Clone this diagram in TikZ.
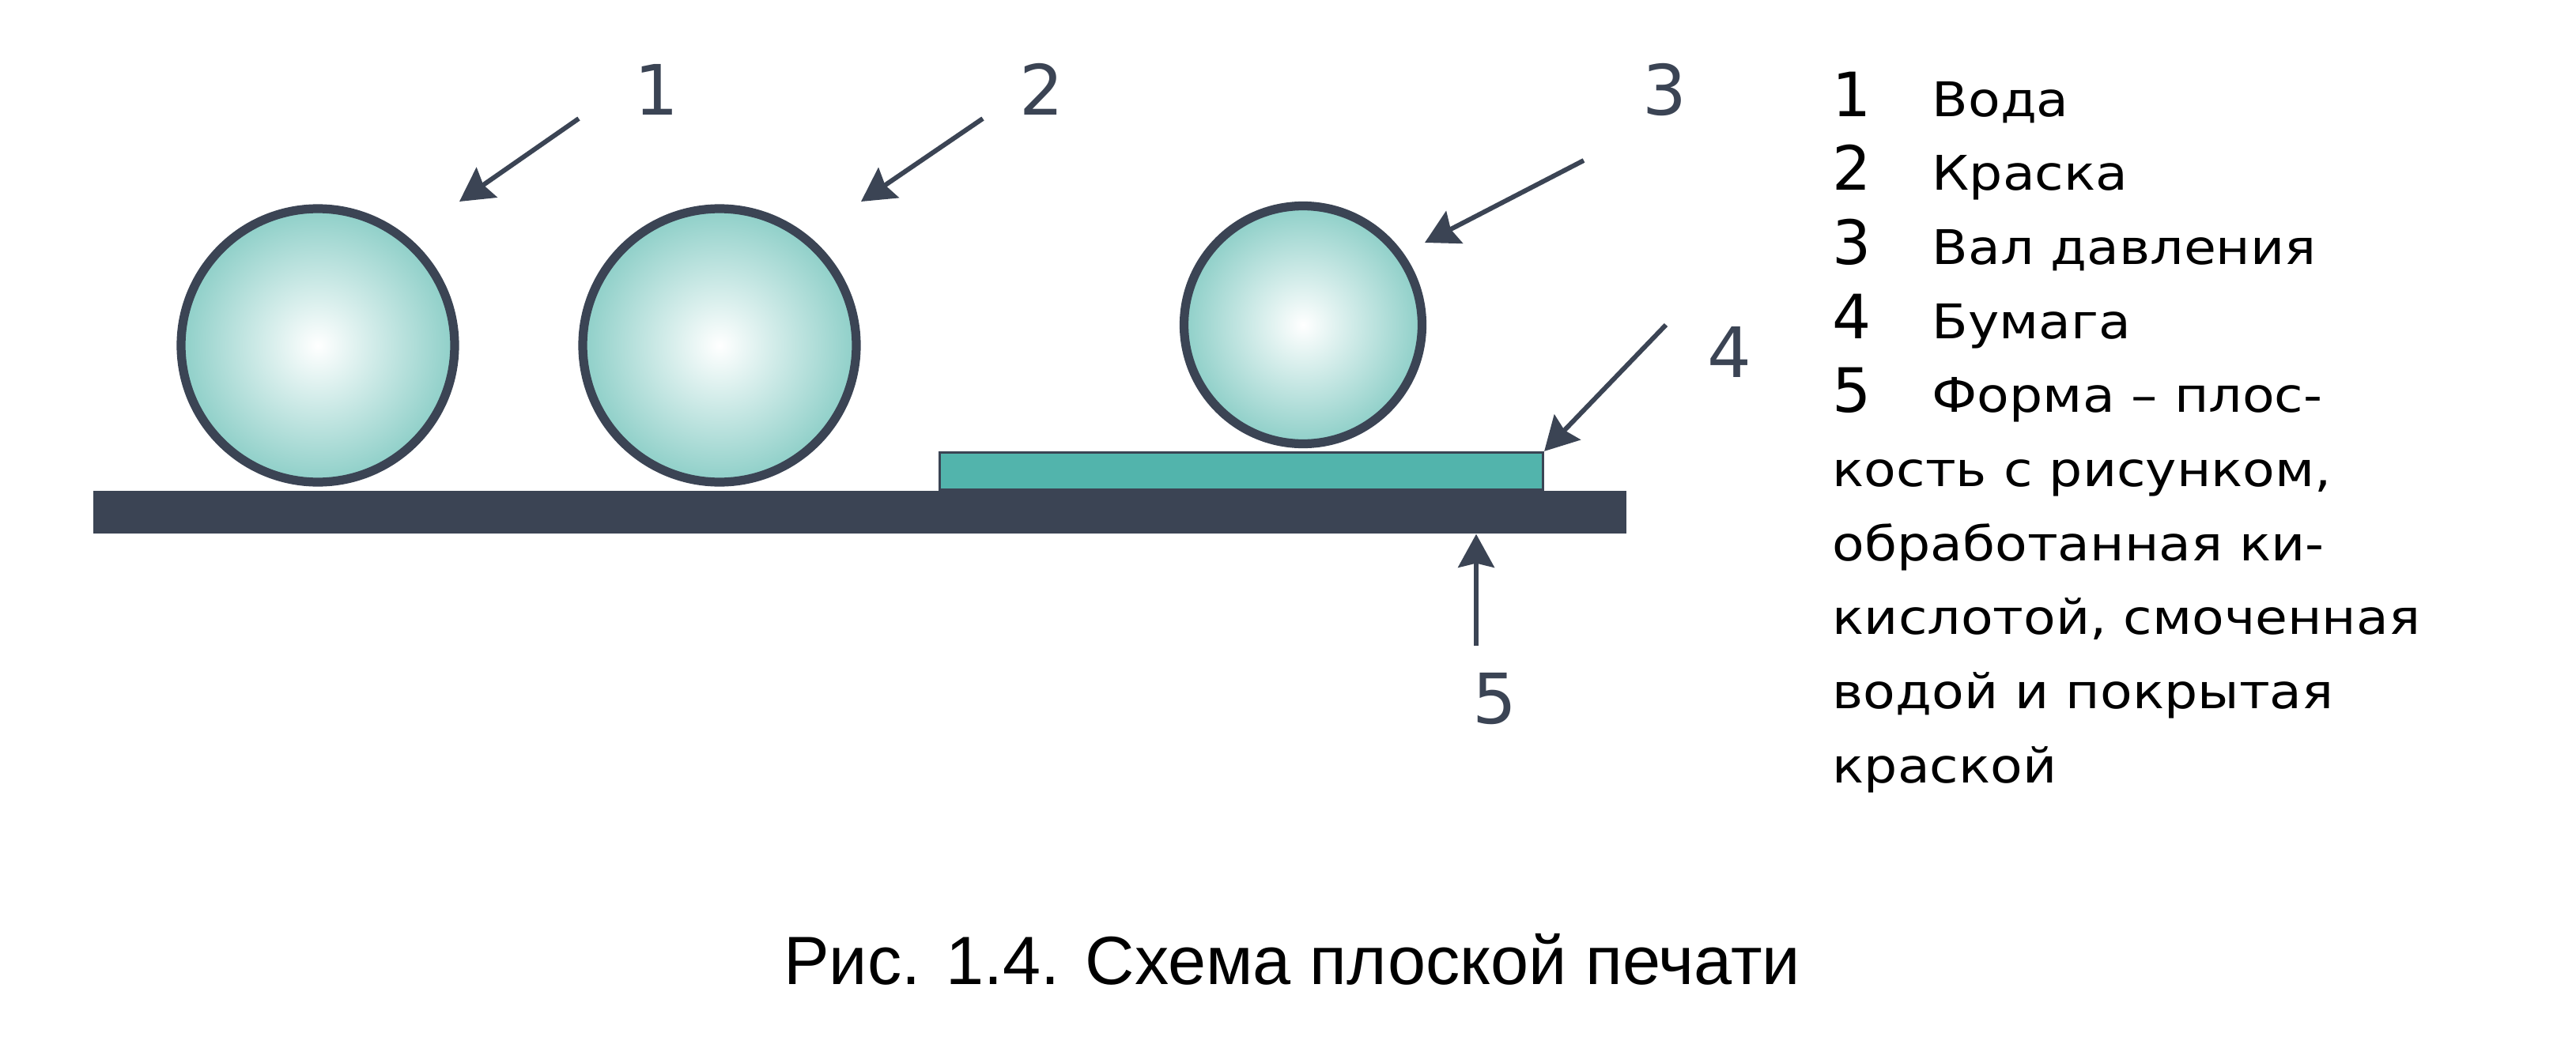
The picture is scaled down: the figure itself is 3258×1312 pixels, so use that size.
\documentclass[tikz,border=0pt]{standalone}
\usepackage{fontspec}
\setmainfont{DejaVu Sans}
\newfontfamily\legendfont{DejaVu Sans}[FakeStretch=1.1]
\newfontfamily\captionfont{Liberation Sans}
\usetikzlibrary{positioning, arrows.meta}

\definecolor{slate}{HTML}{3B4454}
\definecolor{rollteal}{HTML}{8ECFC8}
\definecolor{paperteal}{HTML}{52B4AC}

\begin{document}
\begin{tikzpicture}[x=0.1mm, y=-0.1mm,
    roller/.style={circle, draw=slate, line width=3.2pt, inner color=white, outer color=rollteal, inner sep=0},
    pointer/.style={draw=slate, line width=1.7pt, -{Stealth[length=12pt, width=13pt, inset=1.5pt]}},
    numlabel/.style={text=slate, font=\fontsize{25pt}{30pt}\selectfont, inner sep=0, anchor=base},
    legendnum/.style={font=\fontsize{22pt}{26pt}\selectfont, inner sep=0, anchor=base west},
    legendtext/.style={font=\legendfont\fontsize{17.2pt}{21pt}\selectfont, inner sep=0, anchor=base west}]
    \useasboundingbox (0,0) rectangle (3258,1312);

    % plate (5) and paper (4)
    \node[fill=slate, minimum width=193.9mm, minimum height=5.4mm, inner sep=0] (plate) at (1087.5,648) {};
    \node[fill=paperteal, draw=slate, line width=0.9pt, minimum width=76.3mm, minimum height=4.7mm, inner sep=0] (paper) at (1570,596) {};

    % rollers
    \node[roller, minimum size=34.6mm] (water) at (402,437) {};
    \node[roller, minimum size=34.6mm] (ink) at (910,437) {};
    \node[roller, minimum size=30.1mm] (press) at (1648,411) {};

    % numbers
    \node[numlabel] (l1) at (830,145) {1};
    \node[numlabel] (l2) at (1317,145) {2};
    \node[numlabel] (l3) at (2105,145) {3};
    \node[numlabel] (l4) at (2187,477) {4};
    \node[numlabel] (l5) at (1890,915) {5};

    % arrows
    \coordinate (from1) at (732,150);
    \coordinate (to1) at (581,255);
    \coordinate (from2) at (1243,150);
    \coordinate (to2) at (1089,255);
    \coordinate (from3) at (2003,203);
    \coordinate (to3) at (1802,307);
    \coordinate (from4) at (2107,411);
    \coordinate (from5) at (1867,817);
    \draw[pointer] (from1) -- (to1);
    \draw[pointer] (from2) -- (to2);
    \draw[pointer] (from3) -- (to3);
    \draw[pointer] (from4) -- (paper.north east);
    \draw[pointer] (from5) -- (from5 |- plate.south);

    % legend
    \node[legendnum] (n1) at (2317,147) {1};
    \node[legendtext] (t1) at (2443,147) {Вода};
    \node[legendnum] (n2) at (2317,240.7) {2};
    \node[legendtext] (t2) at (2443,240.7) {Краска};
    \node[legendnum] (n3) at (2317,334.4) {3};
    \node[legendtext] (t3) at (2443,334.4) {Вал давления};
    \node[legendnum] (n4) at (2317,428.1) {4};
    \node[legendtext] (t4) at (2443,428.1) {Бумага};
    \node[legendnum] (n5) at (2317,521.8) {5};
    \node[legendtext] (t5) at (2443,521.8) {Форма – плос-};
    \node[legendtext] (t6) at (2317,615.5) {кость с рисунком,};
    \node[legendtext] (t7) at (2317,709.2) {обработанная ки-};
    \node[legendtext] (t8) at (2317,802.9) {кислотой, смоченная};
    \node[legendtext] (t9) at (2317,896.6) {водой и покрытая};
    \node[legendtext] (t10) at (2317,990.3) {краской};

    % caption
    \node[font=\captionfont\fontsize{24.6pt}{30pt}\selectfont, inner sep=0, anchor=base] (caption) at (1634,1245) {Рис. 1.4. Схема плоской печати};
\end{tikzpicture}
\end{document}
